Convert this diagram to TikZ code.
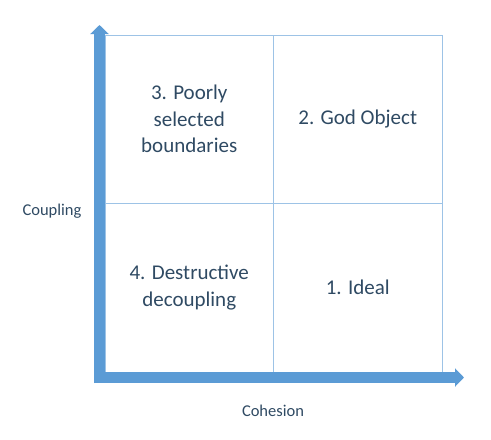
\documentclass[tikz,border=0pt]{standalone}
\usepackage{fontspec}
\setmainfont{Carlito}
\usetikzlibrary{arrows.meta,positioning}
\definecolor{axis}{HTML}{5B9BD5}
\definecolor{grid}{HTML}{9DC3E6}
\definecolor{ink}{HTML}{2F4A63}
\tikzset{
  every node/.style={text=ink},
  quad/.style={draw=grid,line width=0.9pt,minimum width=168.5pt,minimum height=168.5pt,inner sep=0pt,align=center,font=\fontsize{21}{26.5}\selectfont},
  axislabel/.style={font=\fontsize{16.5}{19}\selectfont},
  axisarrow/.style={draw=axis,line width=11pt,-{Triangle[width=18pt,length=9pt]}},
}

\begin{document}
\begin{tikzpicture}[x=1pt,y=-1pt]
  \useasboundingbox (0,0) rectangle (491,440);
  \node[quad] (poor) at (189.25,119.25) {3. Poorly\\selected\\boundaries};
  \node[quad] (god) at (357.75,119.25) {2. God Object};
  \node[quad] (destr) at (189.25,287.75) {4. Destructive\\decoupling};
  \node[quad] (ideal) at (357.75,287.75) {1. Ideal};
  \coordinate (origin) at (99.5,383);
  \coordinate (ytip) at (99.5,25);
  \coordinate (xstart) at (94,377.5);
  \coordinate (xtip) at (464,377.5);
  \draw[axisarrow] (origin) -- (ytip);
  \draw[axisarrow] (xstart) -- (xtip);
  \node[axislabel] (coupling) at (52,211) {Coupling};
  \node[axislabel] (cohesion) at (273,411) {Cohesion};
\end{tikzpicture}
\end{document}
